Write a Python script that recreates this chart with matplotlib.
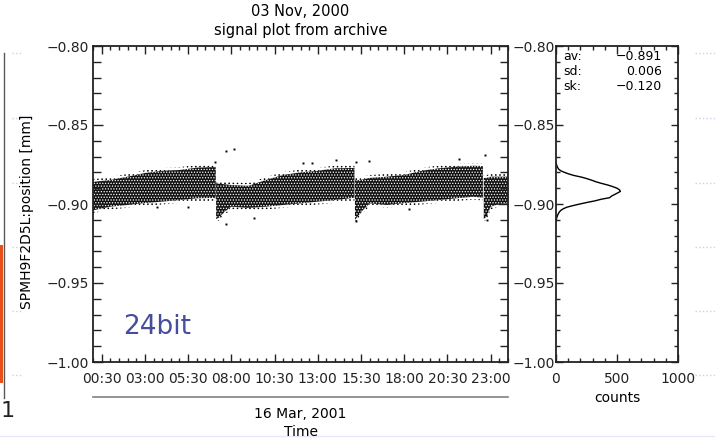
import numpy as np
import matplotlib
matplotlib.use('Agg')
import matplotlib.pyplot as plt
from matplotlib.ticker import MultipleLocator, FixedLocator, FuncFormatter
from matplotlib.lines import Line2D
from matplotlib.patches import Rectangle

# signal band: time in hours, upper and lower edge of the dense cloud [mm]
# NaN splits the four segments (jumps at ~07:06, ~15:08, ~22:35)
band_hours = [0, 1, 2, 3, 4, 5, 6, 7, 7.1, np.nan,
              7.12, 7.3, 7.6, 8, 9, 10, 11, 12, 13, 14, 15, 15.12, np.nan,
              15.15, 15.3, 15.6, 16, 17, 18, 19, 20, 21, 22, 22.55, np.nan,
              22.6, 22.75, 23, 23.5, 24]
band_top = [-0.8860, -0.8848, -0.8827, -0.8804, -0.8790, -0.8785, -0.8770, -0.8766, -0.8768, np.nan,
            -0.8870, -0.8872, -0.8875, -0.8880, -0.8885, -0.8848, -0.8816, -0.8800, -0.8790, -0.8774, -0.8772, -0.8772, np.nan,
            -0.8850, -0.8850, -0.8845, -0.8835, -0.8827, -0.8816, -0.8790, -0.8774, -0.8764, -0.8758, -0.8760, np.nan,
            -0.8835, -0.8835, -0.8827, -0.8827, -0.8827]
band_bot = [-0.9040, -0.9017, -0.9006, -0.8994, -0.8985, -0.8975, -0.8964, -0.8962, -0.8965, np.nan,
            -0.9095, -0.9085, -0.9050, -0.9017, -0.9025, -0.9017, -0.9006, -0.8996, -0.8985, -0.8975, -0.8962, -0.8962, np.nan,
            -0.9100, -0.9080, -0.9040, -0.8996, -0.9006, -0.8994, -0.8985, -0.8975, -0.8964, -0.8954, -0.8960, np.nan,
            -0.9095, -0.9080, -0.9017, -0.9000, -0.8996]

# single stray points outside the band
out_hours = [7.69, 8.15, 7.69, 9.33, 3.68, 5.5, 15.96, 14.05, 15.19, 7.06, 12.15, 12.67,
             15.19, 21.15, 22.69, 22.73, 22.77, 18.28]
out_vals = [-0.8665, -0.8654, -0.9127, -0.9087, -0.9020, -0.9020, -0.8726, -0.8722, -0.8732, -0.8732,
            -0.8740, -0.8738, -0.9108, -0.8715, -0.8690, -0.9070, -0.9100, -0.9030]

# histogram of the signal (bin centre, counts)
hist_pos = [-0.874, -0.875, -0.876, -0.877, -0.878, -0.879, -0.880, -0.881, -0.882, -0.883,
            -0.884, -0.885, -0.886, -0.887, -0.888, -0.889, -0.890, -0.891, -0.892, -0.893,
            -0.894, -0.895, -0.896, -0.897, -0.898, -0.899, -0.900, -0.901, -0.902, -0.903,
            -0.904, -0.905, -0.906, -0.907, -0.908, -0.909, -0.910, -0.911]
hist_counts = [2, 4, 8, 14, 22, 40, 70, 105, 150, 210,
               255, 295, 330, 375, 425, 465, 500, 520, 528, 505,
               480, 455, 440, 370, 320, 255, 195, 140, 90, 60,
               40, 28, 20, 14, 9, 5, 3, 1]

tick_hours = [0.5, 3, 5.5, 8, 10.5, 13, 15.5, 18, 20.5, 23]
tick_labels = ['00:30', '03:00', '05:30', '08:00', '10:30', '13:00', '15:30', '18:00', '20:30', '23:00']

stat_names = ['av:', 'sd:', 'sk:']
stat_values = ['\u22120.891', '0.006', '\u22120.120']

W, H = 715, 438
plt.rcParams['font.family'] = ['DejaVu Sans']
plt.rcParams['hatch.linewidth'] = 0.6

def fx(px):
    return px / W

def fy(py):
    return 1 - py / H

minus_fmt = FuncFormatter(lambda v, p: ('%.2f' % v).replace('-', '\u2212'))
dark = '#222222'

fig = plt.figure(figsize=(W / 100, H / 100), dpi=100)
ax = fig.add_axes([fx(93), fy(362), 415 / W, 316 / H])
hx = fig.add_axes([fx(556), fy(362), 122 / W, 316 / H])

# main signal plot: dense core with white specks, sparse speckled fringe on both sides
top = np.array(band_top)
bot = np.array(band_bot)
fringe = 0.0018
ax.fill_between(band_hours, bot, top, facecolor='#111111', edgecolor='white',
                hatch='......', linewidth=0)
ax.fill_between(band_hours, top, top + fringe, facecolor='none', edgecolor='black',
                hatch='....', linewidth=0)
ax.fill_between(band_hours, bot - fringe, bot, facecolor='none', edgecolor='black',
                hatch='....', linewidth=0)
ax.plot(out_hours, out_vals, 's', color='black', markersize=1.4, markeredgewidth=0)
ax.set_xlim(0, 24)
ax.set_ylim(-1.0, -0.80)
ax.xaxis.set_major_locator(FixedLocator(tick_hours))
ax.set_xticklabels(tick_labels)
ax.xaxis.set_minor_locator(MultipleLocator(0.5))
ax.yaxis.set_major_locator(MultipleLocator(0.05))
ax.yaxis.set_minor_locator(MultipleLocator(0.01))
ax.yaxis.set_major_formatter(minus_fmt)
ax.tick_params(axis='both', which='both', direction='in', top=True, right=True, colors=dark)
ax.tick_params(axis='x', which='major', length=6, width=1, pad=7, labelsize=10)
ax.tick_params(axis='x', which='minor', length=3, width=1)
ax.tick_params(axis='y', which='major', length=7, width=1, pad=3, labelsize=10, labelright=True)
ax.tick_params(axis='y', which='minor', length=6, width=1)
ax.text(0.072, 0.111, '24bit', transform=ax.transAxes, fontsize=19, color='#454d9c',
        ha='left', va='center')

# histogram panel
hx.plot(hist_counts, hist_pos, color='black', linewidth=1)
hx.set_xlim(0, 1000)
hx.set_ylim(-1.0, -0.80)
hx.xaxis.set_major_locator(MultipleLocator(500))
hx.xaxis.set_minor_locator(MultipleLocator(100))
hx.yaxis.set_major_locator(MultipleLocator(0.05))
hx.yaxis.set_minor_locator(MultipleLocator(0.01))
hx.tick_params(axis='both', which='both', direction='in', top=True, right=True, colors=dark)
hx.tick_params(axis='x', which='major', length=6, width=1, pad=7, labelsize=10)
hx.tick_params(axis='x', which='minor', length=3, width=1)
hx.tick_params(axis='y', which='major', length=5, width=1, labelleft=False)
hx.tick_params(axis='y', which='minor', length=3, width=1)
for i in range(len(stat_names)):
    yy = 0.968 - i * 0.048
    hx.text(0.057, yy, stat_names[i], transform=hx.transAxes, fontsize=9, ha='left', va='center')
    hx.text(0.869, yy, stat_values[i], transform=hx.transAxes, fontsize=9, ha='right', va='center')

for a in (ax, hx):
    for s in a.spines.values():
        s.set_linewidth(1.3)
        s.set_color(dark)

# titles and axis texts
fig.text(fx(300.5), fy(11), '03 Nov, 2000', ha='center', va='center', fontsize=10.5)
fig.text(fx(300.5), fy(30), 'signal plot from archive', ha='center', va='center', fontsize=10.5)
fig.text(fx(27), fy(212), 'SPMH9F2D5L:position [mm]', rotation=90, ha='center', va='center', fontsize=10)
fig.add_artist(Line2D([fx(93), fx(508)], [fy(397), fy(397)], color='0.5', linewidth=1.2))
fig.text(fx(300.5), fy(414), '16 Mar, 2001', ha='center', va='center', fontsize=10)
fig.text(fx(300.5), fy(432), 'Time', ha='center', va='center', fontsize=10)
fig.text(fx(617), fy(398), 'counts', ha='center', va='center', fontsize=10)

# bits of the neighbouring slide content at the edges
fig.add_artist(Rectangle((0, fy(383)), fx(3), (383 - 245) / H, facecolor='#e8501a', edgecolor='none'))
fig.add_artist(Line2D([fx(3.5), fx(3.5)], [fy(53), fy(398)], color='0.35', linewidth=1))
fig.text(fx(0.5), fy(411), '1', ha='left', va='center', fontsize=16, color='#222222')
for yy in [53, 118, 183, 247, 311, 375]:
    fig.add_artist(Line2D([fx(12), fx(22)], [fy(yy), fy(yy)], color='#c8d0f0', linewidth=1, linestyle=':'))
    fig.add_artist(Line2D([fx(695), fx(715)], [fy(yy), fy(yy)], color='#c8d0f0', linewidth=1, linestyle=':'))
fig.add_artist(Line2D([0, 1], [fy(436), fy(436)], color='#e4e8f8', linewidth=1))

fig.savefig('out.png', dpi=100)
